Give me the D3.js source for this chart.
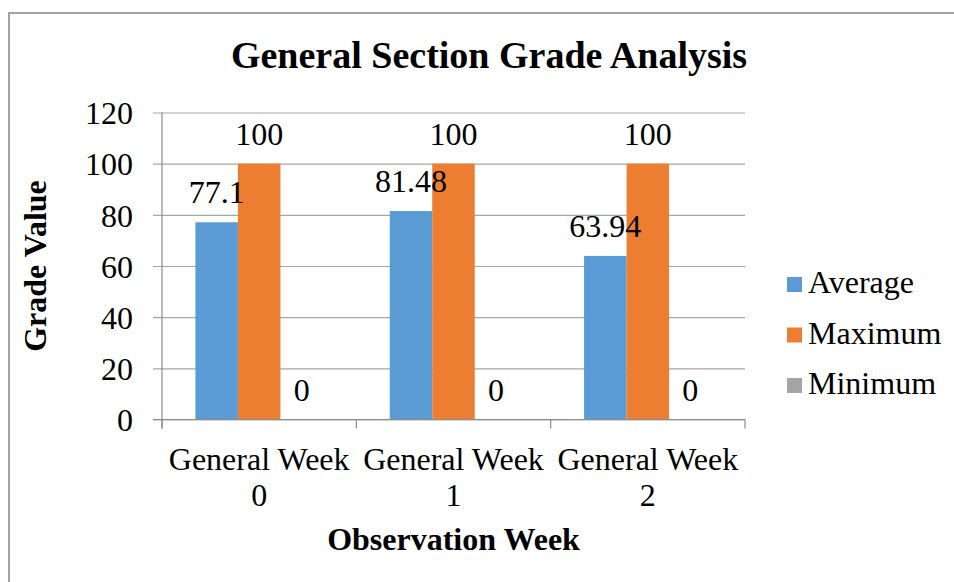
<!DOCTYPE html>
<html>
<head>
<meta charset="utf-8">
<script src="https://cdn.jsdelivr.net/npm/d3@7"></script>
<style>
  body { margin: 0; background: #fff; }
  svg { display: block; font-family: "Liberation Serif", "Times New Roman", serif; }
</style>
</head>
<body>
<svg id="chart"></svg>
<script>
const WIDTH = 954, HEIGHT = 582;

// data
const weeks = ['General Week 0', 'General Week 1', 'General Week 2'];
const series = ['Average', 'Maximum', 'Minimum'];
const average = [77.1, 81.48, 63.94];
const maximum = [100, 100, 100];
const minimum = [0, 0, 0];
const yTicks = [0, 20, 40, 60, 80, 100, 120];
const colors = ['#5B9BD5', '#ED7D31', '#A5A5A5'];

const values = [average, maximum, minimum];
const rows = [];
weeks.forEach((w, i) => series.forEach((s, j) => rows.push({week: w, series: s, value: values[j][i], color: colors[j]})));

const plot = {left: 162, right: 745, top: 112.5, bottom: 419.5};
const FS = 32;

const svg = d3.select('#chart').attr('width', WIDTH).attr('height', HEIGHT);

// outer frame (only left and top edges show)
svg.append('path')
    .attr('d', 'M9,' + HEIGHT + 'V13H' + WIDTH)
    .attr('fill', 'none').attr('stroke', '#a3a3a3').attr('stroke-width', 2);

const x = d3.scaleBand().domain(weeks).range([plot.left, plot.right]).padding(0);
const xs = d3.scaleBand().domain(series).range([0, x.bandwidth()]).paddingInner(0).paddingOuter(0.786);
const y = d3.scaleLinear().domain([0, 120]).range([plot.bottom, plot.top]);

// gridlines, running out past the axis as tick marks
const grid = svg.append('g')
    .attr('transform', 'translate(153,0)')
    .call(d3.axisRight(y).tickValues(yTicks).tickSize(plot.right - 153).tickFormat(''));
grid.select('.domain').remove();
grid.selectAll('line').attr('stroke', '#a6a6a6').attr('stroke-width', 1.2);

// y labels
const yl = svg.append('g')
    .attr('transform', 'translate(153,0)')
    .call(d3.axisLeft(y).tickValues(yTicks).tickSize(0).tickPadding(20));
yl.select('.domain').remove();
yl.attr('font-family', null).attr('font-size', null);
yl.selectAll('text').attr('font-size', FS).attr('fill', '#000').attr('dy', '0.35em');

// bars
svg.append('g').selectAll('rect')
    .data(rows)
    .join('rect')
    .attr('x', d => x(d.week) + xs(d.series))
    .attr('width', xs.bandwidth())
    .attr('y', d => y(d.value))
    .attr('height', d => y(0) - y(d.value))
    .attr('fill', d => d.color);

// data labels
svg.append('g').selectAll('text')
    .data(rows)
    .join('text')
    .attr('x', d => x(d.week) + xs(d.series) + xs.bandwidth() / 2)
    .attr('y', d => y(d.value) - 19)
    .attr('text-anchor', 'middle')
    .attr('font-size', FS)
    .text(d => d.value);

// y axis line
svg.append('line')
    .attr('x1', plot.left).attr('x2', plot.left)
    .attr('y1', plot.top).attr('y2', plot.bottom + 9)
    .attr('stroke', '#8c8c8c').attr('stroke-width', 1.2);

// x axis with category separators
const xa = svg.append('g')
    .attr('transform', 'translate(0,' + plot.bottom + ')')
    .call(d3.axisBottom(x).tickSize(0).tickFormat(''));
xa.select('.domain').remove();
xa.append('line').attr('x1', 153).attr('x2', plot.right).attr('stroke', '#8c8c8c').attr('stroke-width', 1.2);
xa.selectAll('line.sep')
    .data(weeks.concat(['end']))
    .join('line')
    .attr('class', 'sep')
    .attr('x1', (d, i) => i < weeks.length ? x(d) : plot.right)
    .attr('x2', (d, i) => i < weeks.length ? x(d) : plot.right)
    .attr('y1', 0).attr('y2', 9)
    .attr('stroke', '#8c8c8c').attr('stroke-width', 1.2);

// category labels, wrapped on two lines
const cat = svg.append('g').selectAll('text')
    .data(weeks)
    .join('text')
    .attr('text-anchor', 'middle')
    .attr('font-size', FS)
    .attr('y', 470);
cat.append('tspan').attr('x', d => x(d) + x.bandwidth() / 2).text(d => d.slice(0, d.lastIndexOf(' ')));
cat.append('tspan').attr('x', d => x(d) + x.bandwidth() / 2).attr('dy', 36).text(d => d.slice(d.lastIndexOf(' ') + 1));

// titles
svg.append('text')
    .attr('x', 489).attr('y', 68)
    .attr('text-anchor', 'middle')
    .attr('font-size', 38).attr('font-weight', 'bold')
    .text('General Section Grade Analysis');

svg.append('text')
    .attr('x', (plot.left + plot.right) / 2).attr('y', 550)
    .attr('text-anchor', 'middle')
    .attr('font-size', 32).attr('font-weight', 'bold')
    .text('Observation Week');

svg.append('text')
    .attr('transform', 'translate(46,' + (plot.top + plot.bottom) / 2 + ') rotate(-90)')
    .attr('text-anchor', 'middle')
    .attr('font-size', 32).attr('font-weight', 'bold')
    .text('Grade Value');

// legend
const legend = svg.append('g').selectAll('g')
    .data(series)
    .join('g')
    .attr('transform', (d, i) => 'translate(787,' + (277 + i * 50.5) + ')');
legend.append('rect').attr('width', 15).attr('height', 15).attr('fill', (d, i) => colors[i]);
legend.append('text').attr('x', 21).attr('y', 16).attr('font-size', FS).text(d => d);
</script>
</body>
</html>
